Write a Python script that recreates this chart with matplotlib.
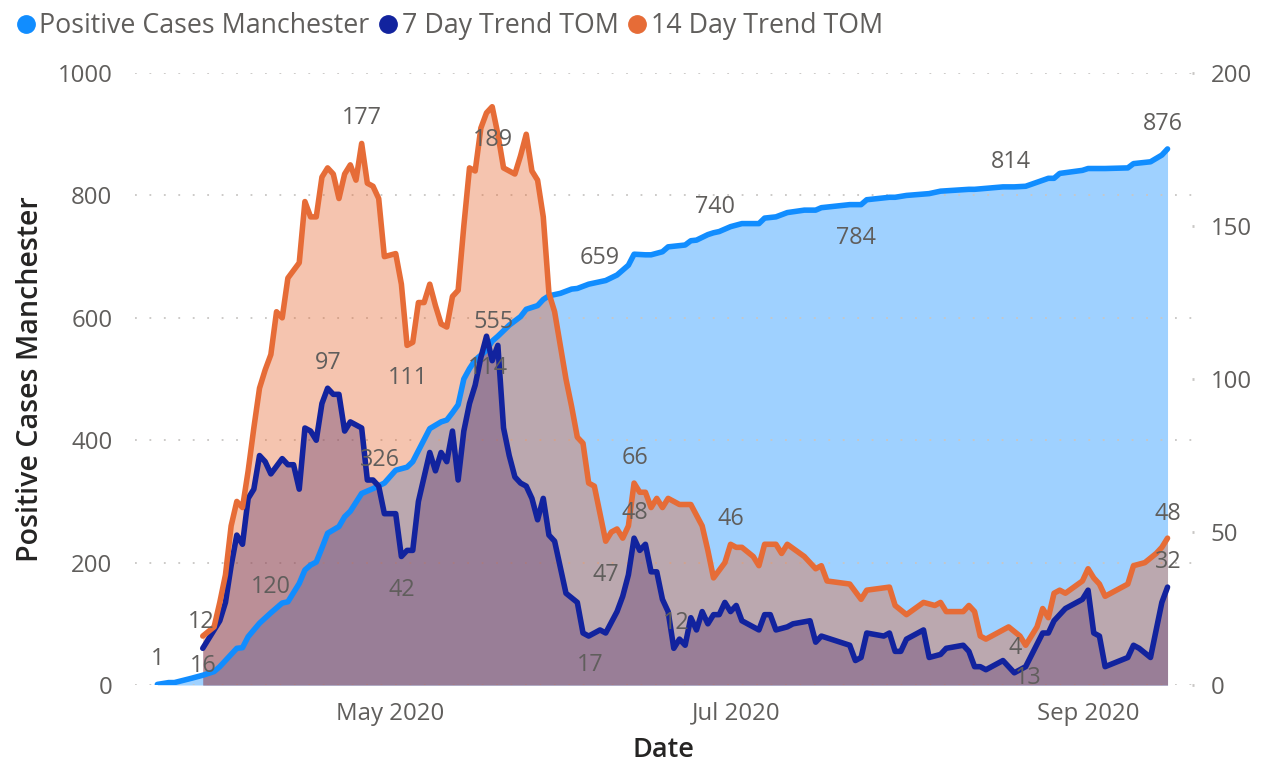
import matplotlib
matplotlib.use('Agg')
import matplotlib.pyplot as plt
import matplotlib.dates as mdates
import pandas as pd
from matplotlib.lines import Line2D

plt.rcParams['font.family'] = ['Open Sans', 'DejaVu Sans']

# data, days counted from 21 Mar 2020
start = pd.Timestamp('2020-03-21')

cases_day = [0, 2, 3, 6, 8, 10, 11, 14, 15, 16, 18, 20, 22, 23, 25, 26, 27, 28, 29, 30,
             32, 33, 34, 36, 38, 40, 42, 44, 45, 48, 50, 51, 52, 53, 54, 55, 56, 58, 59, 60,
             62, 64, 65, 66, 67, 68, 69, 70, 71, 73, 74, 76, 79, 81, 83, 84, 86, 87, 89, 90,
             93, 94, 95, 97, 98, 99, 101, 103, 106, 107, 109, 111, 114, 116, 117, 120, 122, 124, 125, 127,
             129, 130, 132, 136, 138, 143, 144, 149, 151, 153, 157, 158, 159, 163, 164, 167, 171, 172, 175, 177,
             178]
cases_val = [1, 4, 4, 11, 16, 22, 30, 60, 61, 79, 101, 118, 134, 136, 166, 188, 196, 201, 224, 248,
             259, 275, 284, 313, 321, 330, 351, 356, 365, 419, 430, 433, 445, 458, 500, 517, 531, 547, 562, 570,
             588, 602, 614, 617, 620, 630, 636, 638, 640, 647, 648, 655, 661, 670, 686, 704, 703, 703, 708, 716,
             719, 726, 727, 736, 739, 741, 749, 754, 754, 763, 765, 772, 776, 776, 780, 783, 785, 785, 793, 795,
             797, 797, 800, 803, 807, 810, 810, 814, 814, 815, 828, 828, 836, 841, 844, 844, 845, 852, 855, 866,
             876]

trend7_day = [8, 9, 11, 12, 13, 14, 15, 16, 17, 18, 19, 20, 22, 23, 24, 25, 26, 27, 28, 29,
              30, 31, 32, 33, 34, 35, 36, 37, 38, 39, 40, 42, 43, 44, 45, 46, 48, 49, 50, 51,
              52, 53, 54, 55, 56, 57, 58, 59, 60, 61, 62, 63, 64, 65, 66, 67, 68, 69, 70, 72,
              74, 75, 76, 78, 79, 81, 82, 83, 84, 85, 86, 87, 88, 89, 90, 91, 92, 93, 94, 95,
              96, 97, 98, 99, 100, 101, 102, 103, 106, 107, 108, 109, 111, 112, 115, 116, 117, 122, 123, 124,
              125, 128, 129, 130, 131, 132, 135, 136, 138, 139, 142, 143, 144, 145, 146, 149, 150, 151, 153, 156,
              157, 158, 160, 162, 163, 164, 165, 166, 167, 171, 172, 173, 175, 177, 178]
trend7_val = [12, 15, 21, 27, 39, 49, 46, 61, 64, 75, 73, 69, 74, 72, 72, 64, 84, 83, 80, 92,
              97, 95, 95, 83, 86, 85, 84, 67, 67, 65, 56, 56, 42, 44, 44, 60, 76, 70, 76, 73,
              83, 67, 83, 92, 98, 107, 114, 106, 111, 84, 75, 68, 66, 65, 61, 54, 61, 49, 47, 30,
              27, 17, 16, 18, 17, 24, 29, 36, 48, 44, 46, 37, 37, 28, 24, 12, 15, 13, 22, 18,
              24, 20, 23, 23, 27, 24, 26, 21, 18, 23, 23, 18, 19, 20, 21, 14, 16, 13, 8, 9,
              17, 16, 17, 11, 11, 15, 18, 9, 10, 12, 13, 11, 6, 6, 5, 8, 6, 4, 6, 17,
              17, 21, 25, 27, 28, 31, 17, 16, 6, 9, 13, 12, 9, 27, 32]

trend14_day = [8, 10, 11, 12, 13, 14, 15, 16, 17, 18, 19, 20, 21, 22, 23, 25, 26, 27, 28, 29,
               30, 31, 32, 33, 34, 35, 36, 37, 38, 39, 40, 42, 43, 44, 45, 46, 47, 48, 49, 50,
               51, 52, 53, 54, 55, 56, 57, 58, 59, 60, 61, 62, 63, 64, 65, 66, 67, 68, 69, 70,
               71, 72, 73, 74, 75, 76, 77, 79, 80, 81, 82, 83, 84, 85, 86, 87, 88, 89, 90, 92,
               94, 96, 97, 98, 100, 101, 102, 103, 105, 106, 107, 109, 110, 111, 114, 116, 117, 118, 122, 124,
               125, 129, 130, 132, 135, 137, 138, 139, 142, 143, 144, 145, 146, 150, 152, 153, 155, 156, 157, 158,
               159, 160, 163, 164, 165, 166, 167, 171, 172, 174, 176, 177, 178]
trend14_val = [16, 19, 27, 36, 52, 60, 58, 70, 84, 97, 103, 108, 122, 120, 133, 138, 158, 153, 153, 166,
               169, 167, 159, 167, 170, 165, 177, 164, 163, 159, 140, 141, 131, 111, 112, 125, 125, 131, 124, 118,
               117, 127, 129, 150, 169, 168, 182, 187, 189, 180, 169, 168, 167, 173, 180, 168, 165, 153, 128, 122,
               111, 100, 91, 81, 79, 66, 65, 47, 50, 51, 48, 52, 66, 63, 63, 58, 61, 58, 61, 59,
               59, 52, 44, 35, 40, 46, 45, 45, 42, 39, 46, 46, 43, 46, 42, 38, 39, 34, 33, 28,
               31, 32, 26, 23, 27, 26, 27, 24, 24, 26, 24, 16, 15, 19, 16, 13, 19, 25, 22, 30,
               31, 30, 34, 38, 35, 33, 29, 33, 39, 40, 43, 45, 48]

# data labels: text, day, height in left-axis units
label_text = ['1', '16', '120', '326', '555', '659', '740', '784', '814', '876',
              '12', '97', '42', '114', '17', '48', '12', '4', '32',
              '177', '111', '189', '47', '66', '46', '13', '48']
label_day = [0, 8.1, 20, 39.2, 59.2, 78, 98.3, 123.1, 150.4, 177.2,
             7.7, 30.1, 43.1, 58.3, 76.2, 84.2, 91.4, 151.1, 178.1,
             36.1, 44.2, 59.2, 79.1, 84.2, 101.1, 153.4, 178.1]
label_y = [43, 31, 160, 368, 593, 698, 781, 730, 855, 917,
           103, 527, 155, 518, 33, 281, 101, 60, 201,
           926, 502, 891, 180, 371, 271, 11, 279]

BLUE = '#118DFF'
NAVY = '#12239E'
ORANGE = '#E66C37'
GREY = '#605E5C'
DARK = '#252423'


def to_dates(days):
    return [start + pd.Timedelta(days=d) for d in days]


fig = plt.figure(figsize=(12.8, 7.69), dpi=100)
ax = fig.add_axes([0.1052, 0.1092, 0.826, 0.7958])
ax2 = ax.twinx()

cd, td7, td14 = to_dates(cases_day), to_dates(trend7_day), to_dates(trend14_day)

ax.fill_between(cd, 0, cases_val, color=BLUE, alpha=0.4, lw=0)
ax2.fill_between(td7, 0, trend7_val, color=NAVY, alpha=0.4, lw=0)
ax2.fill_between(td14, 0, trend14_val, color=ORANGE, alpha=0.4, lw=0)
line_kw = dict(lw=4.0, solid_joinstyle='round', solid_capstyle='round')
ax2.plot(cd, cases_val, color=BLUE, transform=ax.transData, **line_kw)
ax2.plot(td7, trend7_val, color=NAVY, **line_kw)
ax2.plot(td14, trend14_val, color=ORANGE, **line_kw)

for s, d, y in zip(label_text, label_day, label_y):
    x = mdates.date2num(start + pd.Timedelta(days=d))
    ax2.text(x, y, s, transform=ax.transData, ha='center', va='center',
             fontsize=16.8, color=GREY, zorder=5)

ax.set_xlim(start - pd.Timedelta(days=4), start + pd.Timedelta(days=182.3))
ax.set_ylim(0, 1000)
ax2.set_ylim(0, 200)
ax.set_yticks([0, 200, 400, 600, 800, 1000])
ax2.set_yticks([0, 50, 100, 150, 200])

ax.xaxis.set_major_locator(mdates.MonthLocator(bymonth=[5, 7, 9]))
ax.xaxis.set_major_formatter(mdates.DateFormatter('%b %Y'))

for a in (ax, ax2):
    for sp in a.spines.values():
        sp.set_visible(False)

ax.yaxis.grid(True, color='#C8C6C4', linestyle=(0, (1, 7)), linewidth=1.3)
ax.tick_params(axis='y', length=0, pad=16, labelsize=17.3, labelcolor=GREY)
ax.tick_params(axis='x', length=0, pad=12, labelsize=17.3, labelcolor=GREY)
ax2.tick_params(axis='y', length=1.5, width=2, color='#C8C6C4', pad=12,
                labelsize=17.3, labelcolor=GREY)

ax.set_xlabel('Date', fontsize=19.5, color=DARK, fontweight='semibold')
ax.set_ylabel('Positive Cases Manchester', fontsize=20.6, color=DARK, fontweight='semibold')
ax.xaxis.set_label_coords(0.5, -0.106)
ax.xaxis.label.set_va('center')
ax.yaxis.set_label_coords(-0.0987, 0.5)
ax.yaxis.label.set_va('center')

handles = [Line2D([], [], marker='o', ls='none', color=c, markersize=12.5)
           for c in (BLUE, NAVY, ORANGE)]
fig.legend(handles, ['Positive Cases Manchester', '7 Day Trend TOM', '14 Day Trend TOM'],
           loc='upper left', bbox_to_anchor=(0.013, 0.984), ncol=3, frameon=False,
           fontsize=19.3, labelcolor=GREY, handletextpad=0.15, columnspacing=0.35,
           handlelength=0.7, borderaxespad=0, borderpad=0)

fig.savefig('out.png', dpi=100)
